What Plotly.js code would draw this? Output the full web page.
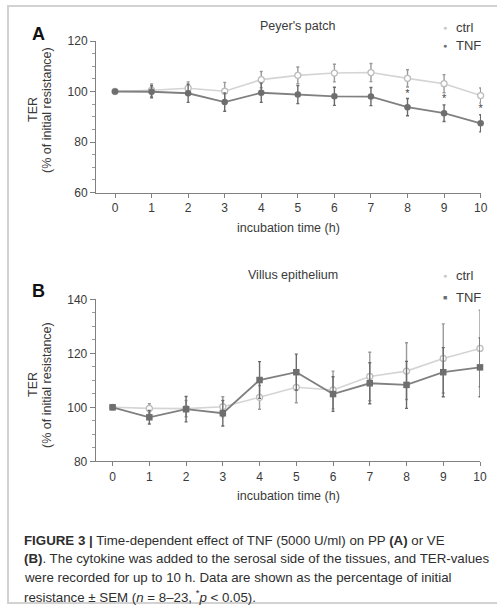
<!DOCTYPE html>
<html>
<head>
<meta charset="utf-8">
<script src="https://cdn.plot.ly/plotly-3.0.1.min.js"></script>
<style>html,body{margin:0;padding:0;background:#fff;}#chart{width:497px;height:608px;}</style>
</head>
<body>
<div id="chart"></div>
<script>
// ---- data ----
const hours = [0,1,2,3,4,5,6,7,8,9,10];
const xTickLabels = ["0","1","2","3","4","5","6","7","8","9","10"];

const ppCtrl    = [100, 100.5, 101.3, 100.1, 104.7, 106.4, 107.3, 107.5, 105.2, 103.1, 98.4];
const ppCtrlSem = [0, 2.5, 2.5, 3.5, 3.2, 3.3, 3.5, 3.6, 3.4, 3.6, 3.0];
const ppTnf     = [100, 99.9, 99.3, 95.8, 99.5, 98.8, 98.1, 98.0, 93.8, 91.4, 87.4];
const ppTnfSem  = [0, 2.4, 3.6, 3.6, 3.8, 3.6, 3.6, 3.6, 3.4, 3.3, 3.4];

const veCtrl    = [100, 99.6, 99.5, 100.2, 103.7, 107.4, 106.4, 111.4, 113.4, 118.1, 121.8];
const veCtrlSem = [0, 1.7, 3.0, 3.7, 4.4, 5.7, 7.0, 9.0, 10.5, 12.8, 14.2];
const veTnf     = [100, 96.3, 99.3, 97.8, 110.1, 113.0, 104.9, 108.9, 108.3, 113.0, 114.8];
const veTnfSem  = [0, 2.5, 4.7, 4.7, 6.8, 6.7, 6.4, 7.6, 8.7, 9.1, 10.9];

const sigHours = [8, 9, 10];
const sigY     = [98.9, 96.8, 92.8];

// ---- layout helpers ----
const W = 497, H = 608;
const px = v => v / W;
const py = v => 1 - v / H;

const CTRL_LINE = '#d4d4d4', CTRL_MK = '#bdbdbd', CTRL_ERR = '#9a9a9a';
const TNF_LINE = '#808080', TNF_MK = '#6e6e6e', TNF_ERR = '#6a6a6a';
const FONT = 'Liberation Sans, Arial, sans-serif';

function ctrlTrace(y, e, xa, ya, sym) {
  return {x: hours, y: y, xaxis: xa, yaxis: ya, type: 'scatter', mode: 'lines+markers',
    cliponaxis: false, showlegend: false,
    line: {color: CTRL_LINE, width: 1.6},
    marker: {symbol: sym, size: 6, color: '#ffffff', line: {color: CTRL_MK, width: 1.3}},
    error_y: {type: 'data', array: e, visible: true, color: CTRL_ERR, thickness: 1.4, width: 1.5}};
}
function tnfTrace(y, e, xa, ya, sym) {
  return {x: hours, y: y, xaxis: xa, yaxis: ya, type: 'scatter', mode: 'lines+markers',
    cliponaxis: false, showlegend: false,
    line: {color: TNF_LINE, width: 1.8},
    marker: {symbol: sym, size: 6.5, color: TNF_MK},
    error_y: {type: 'data', array: e, visible: true, color: TNF_ERR, thickness: 1.4, width: 1.5}};
}

const traces = [
  ctrlTrace(ppCtrl, ppCtrlSem, 'x', 'y', 'circle'),
  tnfTrace(ppTnf, ppTnfSem, 'x', 'y', 'circle'),
  ctrlTrace(veCtrl, veCtrlSem, 'x2', 'y2', 'circle'),
  tnfTrace(veTnf, veTnfSem, 'x2', 'y2', 'square'),
  {x: sigHours, y: sigY, xaxis: 'x', yaxis: 'y', type: 'scatter', mode: 'text',
   text: sigHours.map(() => '*'), textfont: {family: FONT, size: 11, color: '#444'},
   cliponaxis: false, showlegend: false, hoverinfo: 'skip'}
];

function xAxis(domain, range) {
  return {domain: domain, range: range, showgrid: false, zeroline: false,
    showline: true, linecolor: '#808080', linewidth: 1,
    ticks: 'outside', ticklen: 4, tickcolor: '#808080', tickwidth: 1,
    tickvals: hours, ticktext: xTickLabels,
    tickfont: {family: FONT, size: 12, color: '#3a3a3a'}};
}
function yAxis(domain, range, dtick, anchor) {
  return {domain: domain, range: range, showgrid: false, zeroline: false, anchor: anchor,
    showline: true, linecolor: '#808080', linewidth: 1,
    ticks: 'outside', ticklen: 5, tickcolor: '#808080', tickwidth: 1, dtick: dtick,
    minor: {dtick: 5, ticks: 'outside', ticklen: 3, tickcolor: '#9a9a9a', showgrid: false},
    tickfont: {family: FONT, size: 12, color: '#3a3a3a'}};
}

const ann = [];
function txt(x, y, text, size, opts) {
  ann.push(Object.assign({xref: 'paper', yref: 'paper', x: px(x), y: py(y), text: text,
    showarrow: false, font: {family: FONT, size: size, color: '#3a3a3a'},
    xanchor: 'center', yanchor: 'middle'}, opts || {}));
}
// panel letters
txt(38, 34, '<b>A</b>', 18, {font: {family: FONT, size: 18, color: '#111'}});
txt(38, 291, '<b>B</b>', 18, {font: {family: FONT, size: 18, color: '#111'}});
// titles
txt(297, 26, "Peyer's patch", 12.5);
txt(293, 275, 'Villus epithelium', 12.5);
// x titles
txt(288, 228, 'incubation time (h)', 12.5);
txt(288, 496, 'incubation time (h)', 12.5);
// y titles
txt(33, 110, 'TER', 12.5, {textangle: -90});
txt(47, 110, '(% of initial resistance)', 12.5, {textangle: -90});
txt(33, 385, 'TER', 12.5, {textangle: -90});
txt(47, 385, '(% of initial resistance)', 12.5, {textangle: -90});
// legends
function legend(y1, y2, sq) {
  txt(445, y1, '<span style="color:#c8c8c8">●</span>', 7, {xanchor: 'center'});
  txt(454, y1, 'ctrl', 13, {xanchor: 'left'});
  txt(445, y2, '<span style="color:#6e6e6e">' + (sq ? '■' : '●') + '</span>', 7, {xanchor: 'center'});
  txt(454, y2, 'TNF', 13, {xanchor: 'left'});
}
legend(27, 45, false);
legend(275, 297, true);
// caption
const capFont = {family: FONT, size: 13.3, color: '#2e2e2e'};
const cap = [
  '<b>FIGURE 3 |</b> Time-dependent effect of TNF (5000 U/ml) on PP <b>(A)</b> or VE',
  '<b>(B)</b>. The cytokine was added to the serosal side of the tissues, and TER-values',
  'were recorded for up to 10 h. Data are shown as the percentage of initial',
  'resistance ± SEM (<i>n</i> = 8–23, <sup>*</sup><i>p</i> < 0.05).'
];
cap.forEach((t, i) => txt(22, 540 + i * 18.7, t, 13.3, {xanchor: 'left', font: capFont}));

const layout = {
  width: W, height: H, margin: {l: 0, r: 0, t: 0, b: 0},
  paper_bgcolor: '#ffffff', plot_bgcolor: 'rgba(0,0,0,0)', showlegend: false,
  xaxis: xAxis([px(96), px(481)], [-0.52, 10.01]),
  yaxis: yAxis([py(192.5), py(41)], [60, 120], 20, 'x'),
  xaxis2: Object.assign(xAxis([px(95.7), px(480)], [-0.46, 10.0]), {anchor: 'y2'}),
  yaxis2: yAxis([py(461.3), py(299.3)], [80, 140], 20, 'x2'),
  annotations: ann,
  shapes: [{type: 'rect', xref: 'paper', yref: 'paper', x0: px(8), x1: 1.02, y0: py(603), y1: py(6),
    line: {color: '#d2d2d2', width: 2}, fillcolor: 'rgba(0,0,0,0)'}]
};

Plotly.newPlot('chart', traces, layout, {displayModeBar: false, staticPlot: true});
</script>
</body>
</html>
